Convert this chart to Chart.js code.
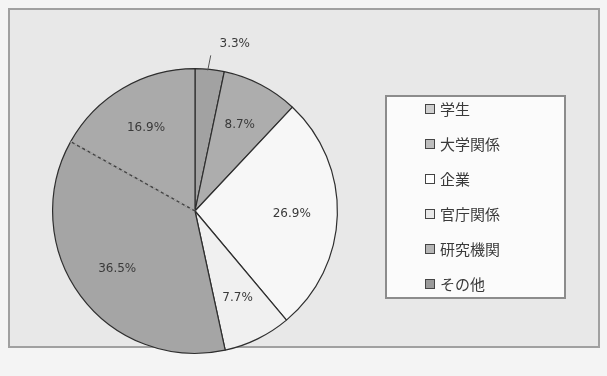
<!DOCTYPE html>
<html>
<head>
<meta charset="utf-8">
<script src="https://cdn.jsdelivr.net/npm/chart.js@4.4.0/dist/chart.umd.min.js"></script>
<style>
  html, body { margin: 0; padding: 0; }
  body { width: 607px; height: 376px; background: #f4f4f4; position: relative; overflow: hidden;
         font-family: "Noto Sans CJK JP", sans-serif; }
  #frame { position: absolute; left: 8px; top: 8px; width: 588px; height: 336px;
           background: #e8e8e8; border: 2px solid #a0a0a0; }
  #wrap { position: absolute; left: 0; top: 0; width: 607px; height: 376px; }
  #legend { position: absolute; left: 385px; top: 95px; width: 181px; height: 204px;
            background: #fbfbfb; border: 2px solid #8c8c8c; box-sizing: border-box;
            padding: 0 0 0 38px; }
  #items { position: relative; top: -6px; }
  .item { height: 35px; line-height: 35px; font-size: 15px; color: #3a3a3a; white-space: nowrap; }
  .box { display: inline-block; width: 8px; height: 8px; border: 1px solid #444; margin-right: 5px;
         vertical-align: middle; position: relative; top: -2px; }
</style>
</head>
<body>
<div id="frame"></div>
<div id="wrap"><canvas id="pieChart" width="607" height="376"></canvas></div>
<div id="legend"><div id="items"></div></div>
<script>
// Respondent breakdown (%)
const categories = ["学生", "大学関係", "企業", "官庁関係", "研究機関", "その他"];
const shares = [3.3, 8.7, 26.9, 7.7, 36.5, 16.9];
const sliceColors = ["#a2a2a2", "#adadad", "#f7f7f7", "#f0f0f0", "#a5a5a5", "#aaaaaa"];
const legendFill = ["#cfcfcf", "#bdbdbd", "#ffffff", "#e8e8e8", "#b5b5b5", "#9a9a9a"];

// HTML legend
const legend = document.getElementById("items");
categories.forEach((name, i) => {
  const row = document.createElement("div");
  row.className = "item";
  row.innerHTML = '<span class="box" style="background:' + legendFill[i] + '"></span>' + name;
  legend.appendChild(row);
});

// Percent labels, the tiny first slice goes outside with a leader line
const pctLabels = {
  id: "pctLabels",
  afterDatasetsDraw(chart) {
    const ctx = chart.ctx;
    const arcs = chart.getDatasetMeta(0).data;

    // dashed edge between 研究機関 and その他
    const last = arcs[5];
    ctx.save();
    ctx.strokeStyle = "#a7a7a7";
    ctx.lineWidth = 2;
    ctx.beginPath();
    ctx.moveTo(last.x, last.y);
    ctx.lineTo(last.x + Math.cos(last.startAngle) * last.outerRadius,
               last.y + Math.sin(last.startAngle) * last.outerRadius);
    ctx.stroke();
    ctx.strokeStyle = "#3c3c3c";
    ctx.lineWidth = 1.2;
    ctx.setLineDash([3, 3]);
    ctx.stroke();
    ctx.restore();

    ctx.save();
    ctx.font = "12px 'DejaVu Sans', sans-serif";
    ctx.fillStyle = "#3a3a3a";
    ctx.textAlign = "center";
    ctx.textBaseline = "middle";
    arcs.forEach((arc, i) => {
      const mid = (arc.startAngle + arc.endAngle) / 2;
      const text = shares[i].toFixed(1) + "%";
      if (i === 0) {
        const r = arc.outerRadius;
        const x0 = arc.x + Math.cos(mid) * r, y0 = arc.y + Math.sin(mid) * r;
        ctx.strokeStyle = "#555";
        ctx.lineWidth = 1;
        ctx.beginPath();
        ctx.moveTo(x0 - 2, y0 + 1);
        ctx.lineTo(x0 + 1, y0 - 14);
        ctx.stroke();
        ctx.fillText(text, x0 + 25, y0 - 25);
      } else {
        const r = arc.outerRadius * 0.68;
        ctx.fillText(text, arc.x + Math.cos(mid) * r, arc.y + Math.sin(mid) * r);
      }
    });
    ctx.restore();
  }
};

new Chart(document.getElementById("pieChart"), {
  type: "pie",
  data: {
    labels: categories,
    datasets: [{
      data: shares,
      backgroundColor: sliceColors,
      borderColor: "#2e2e2e",
      borderWidth: 1.2
    }]
  },
  options: {
    responsive: false,
    animation: false,
    layout: { padding: { left: 52, right: 269, top: 68, bottom: 22 } },
    plugins: {
      legend: { display: false },
      tooltip: { enabled: false }
    }
  },
  plugins: [pctLabels]
});
</script>
</body>
</html>
